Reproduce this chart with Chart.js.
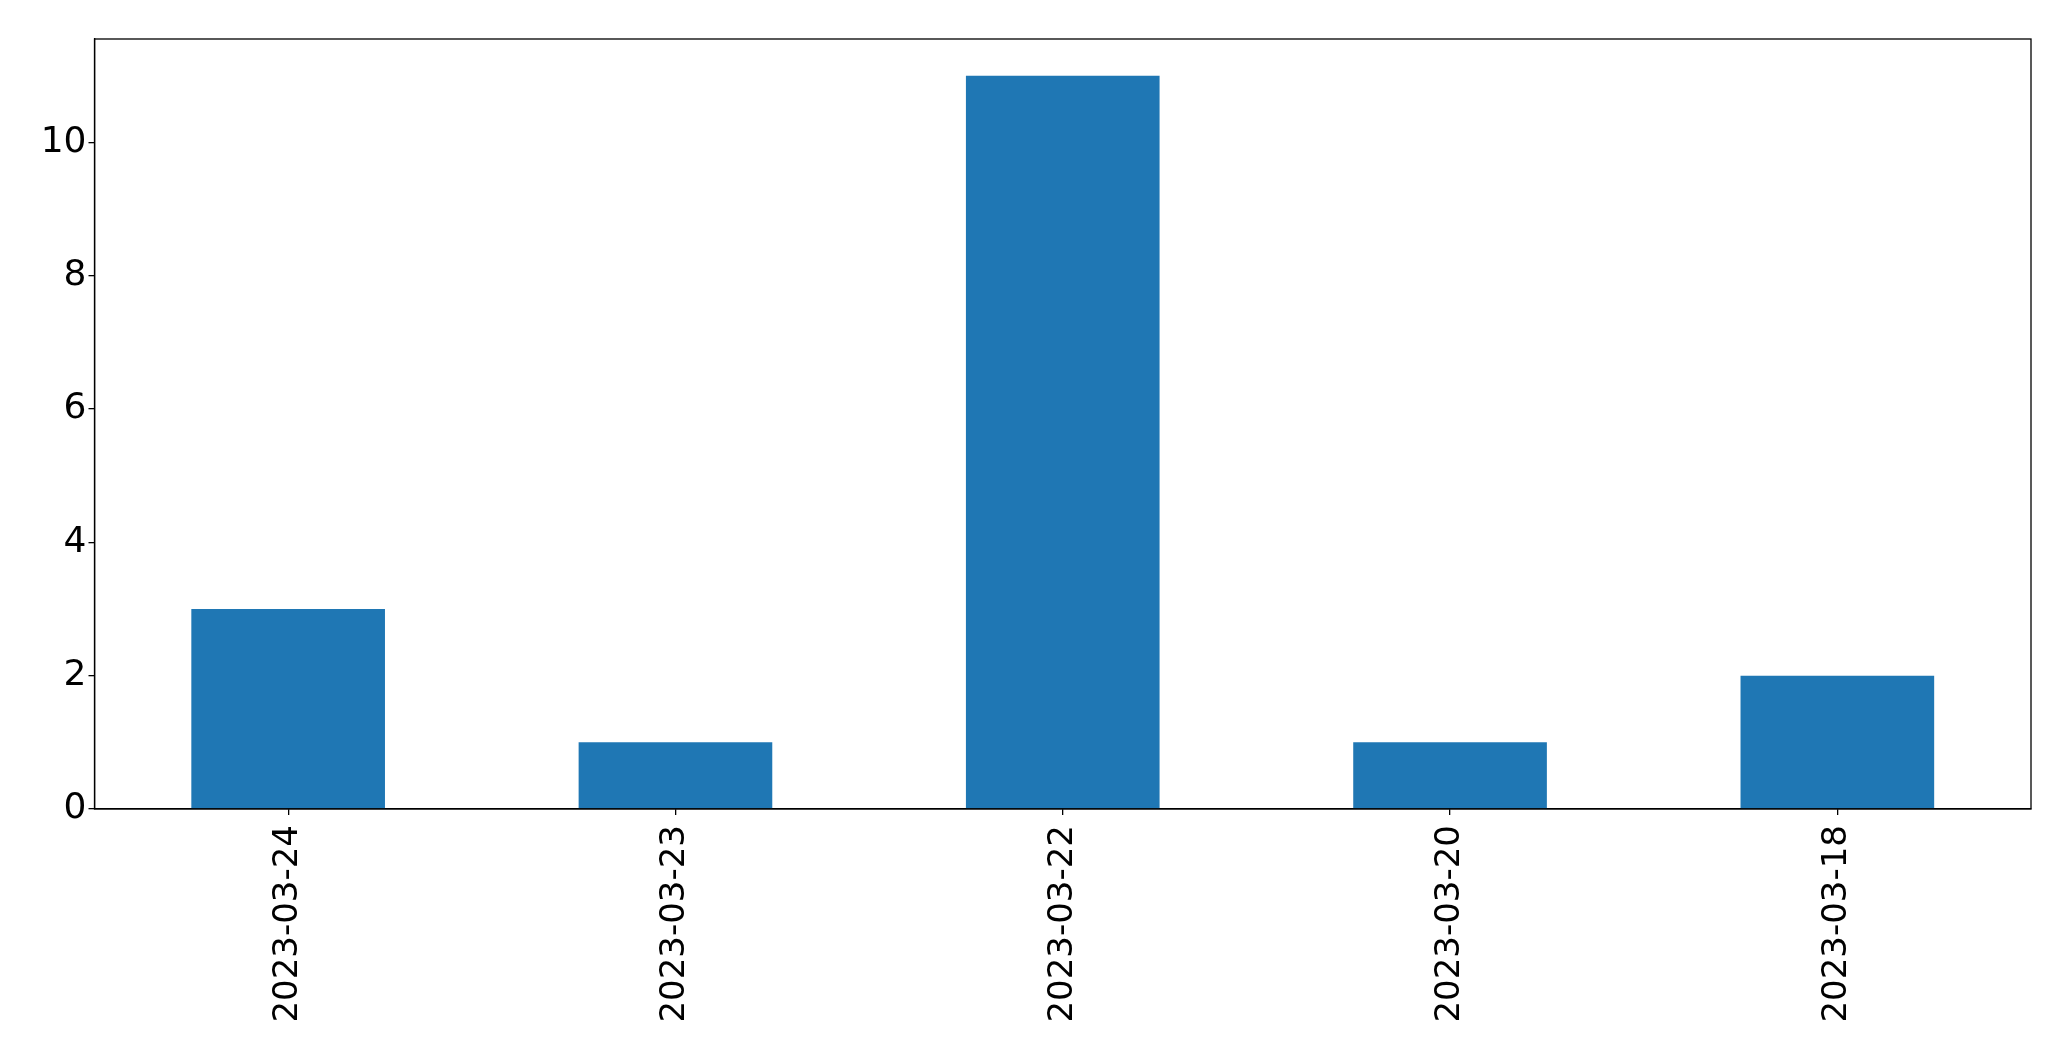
<!DOCTYPE html>
<html>
<head>
<meta charset="utf-8">
<script src="https://cdn.jsdelivr.net/npm/chart.js@4/dist/chart.umd.min.js"></script>
<style>
	html, body { margin: 0; padding: 0; background: #fff; }
	#wrap { width: 2071px; height: 1061px; }
</style>
</head>
<body>
<div id="wrap"><canvas id="myChart"></canvas></div>
<script>
	var dates  = ['2023-03-24', '2023-03-23', '2023-03-22', '2023-03-20', '2023-03-18'];
	var counts = [3, 1, 11, 1, 2];
	var y_ticks = [0, 2, 4, 6, 8, 10];

	// box around the plot area, like matplotlib's spines
	var frame = {
		id: 'frame',
		afterDraw: function(chart) {
			var a = chart.chartArea, c = chart.ctx;
			c.save();
			c.strokeStyle = '#000';
			c.lineWidth = 1.3;
			c.strokeRect(a.left, a.top, a.right - a.left, a.bottom - a.top);
			c.restore();
		}
	};

	var ctx = document.getElementById('myChart').getContext('2d');
	var myBar = new Chart(ctx, {
		type: 'bar',
		data: {
			labels: dates,
			datasets: [{
				data: counts,
				backgroundColor: '#1f77b4',
				borderWidth: 0,
				categoryPercentage: 1,
				barPercentage: 0.5
			}]
		},
		options: {
			responsive: true,
			maintainAspectRatio: false,
			animation: false,
			layout: { padding: { top: 39, right: 40, left: 0, bottom: 0 } },
			plugins: { legend: { display: false }, tooltip: { enabled: false } },
			scales: {
				x: {
					grid: { display: true, offset: false, drawOnChartArea: false, tickLength: 6, color: '#000', lineWidth: 1.3 },
					border: { color: '#000', width: 1.3 },
					ticks: {
						color: '#000',
						font: { family: 'DejaVu Sans', size: 34 },
						minRotation: 90,
						maxRotation: 90,
						padding: 10
					},
					afterFit: function(s) { s.height = 252; }
				},
				y: {
					min: 0,
					max: 11.55,
					afterBuildTicks: function(s) {
						s.ticks = y_ticks.map(function(v) { return { value: v }; });
					},
					grid: { display: true, drawOnChartArea: false, tickLength: 6, color: '#000', lineWidth: 1.3 },
					border: { color: '#000', width: 1.3 },
					ticks: {
						color: '#000',
						font: { family: 'DejaVu Sans', size: 36 },
						padding: 2
					},
					afterFit: function(s) { s.width = 94.5; }
				}
			}
		},
		plugins: [frame]
	});
</script>
</body>
</html>
